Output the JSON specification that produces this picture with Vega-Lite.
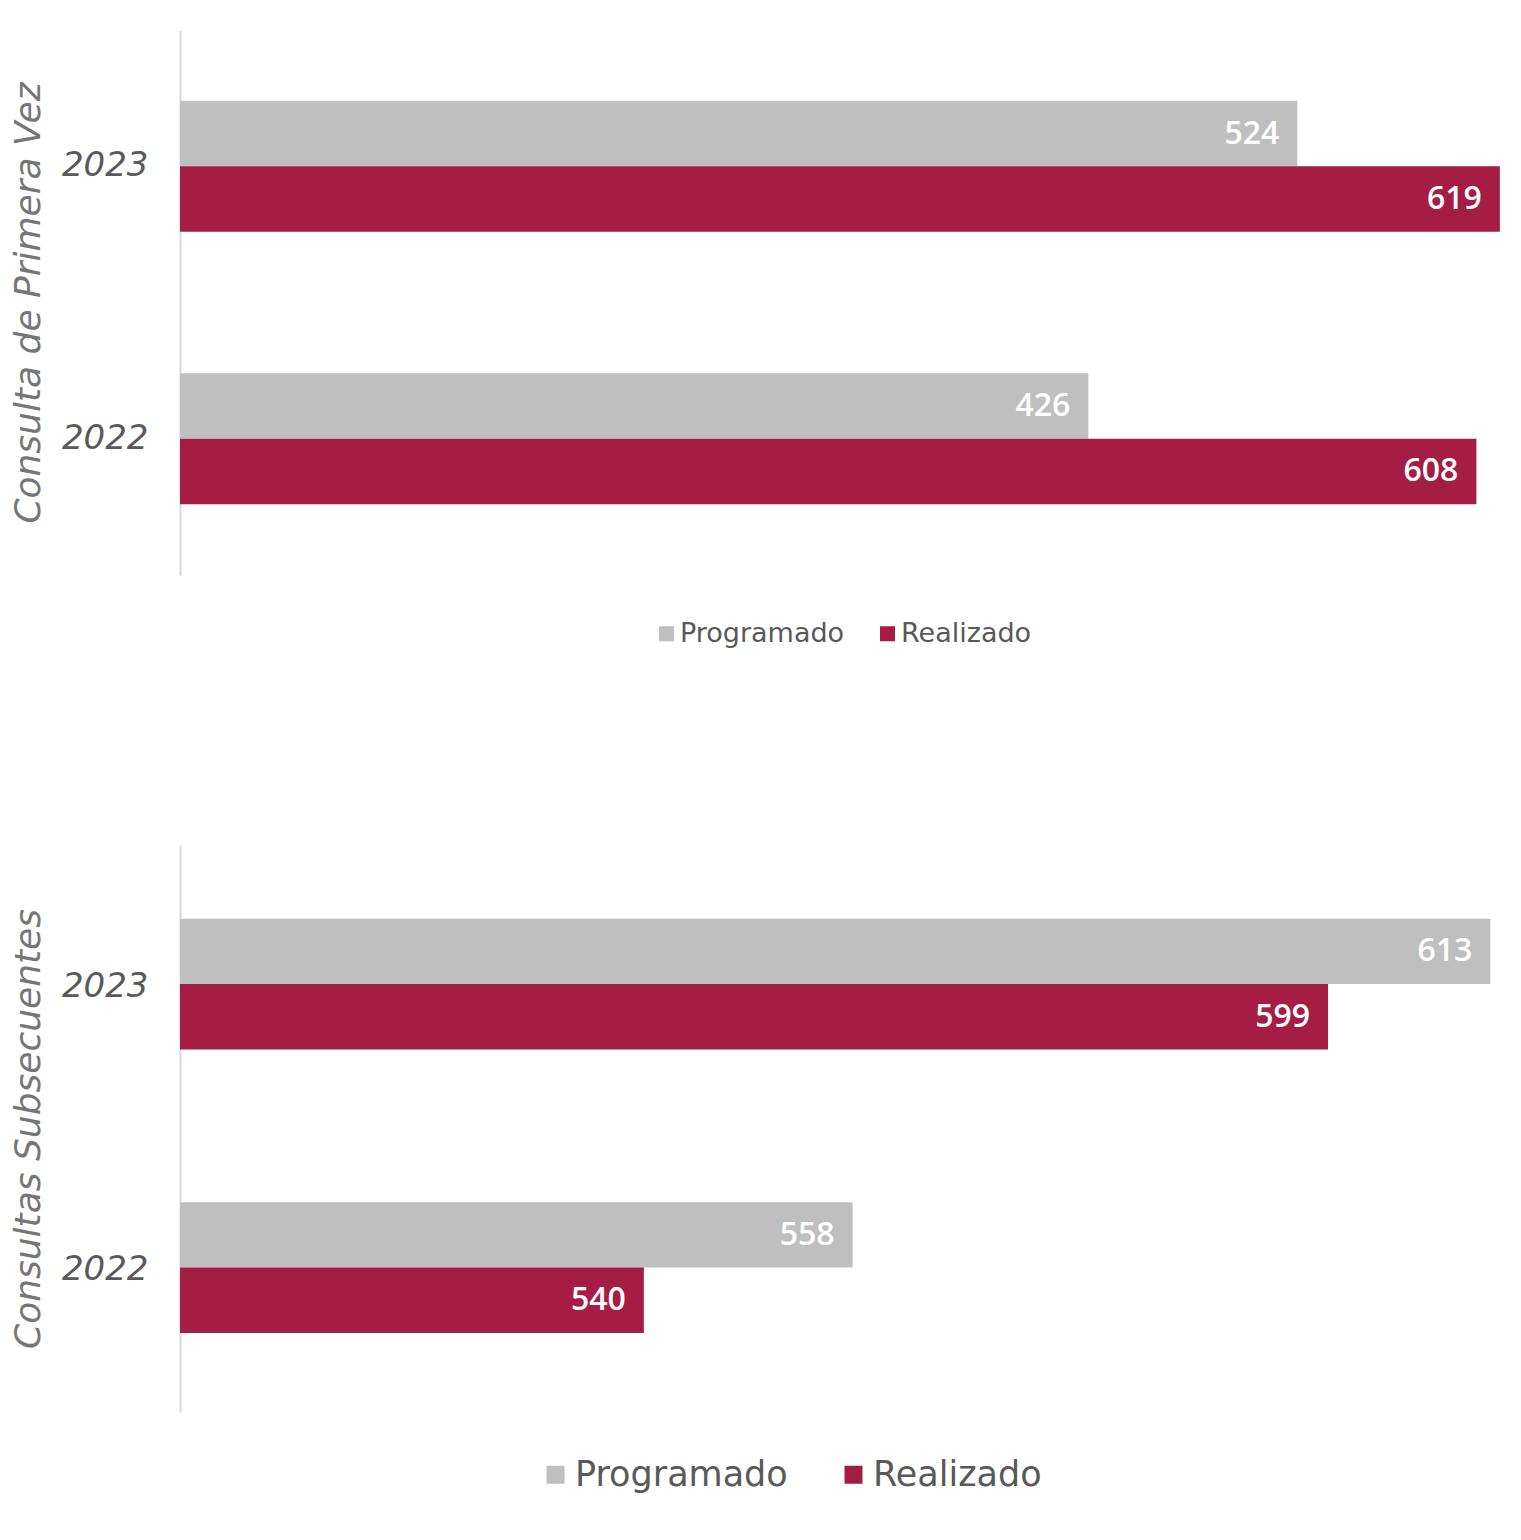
{
  "$schema": "https://vega.github.io/schema/vega-lite/v6.json",
  "background": "white",
  "padding": {"left": 10, "top": 30, "right": 5, "bottom": 5},
  "config": {"view": {"stroke": null}, "font": "DejaVu Sans"},
  "datasets": {
    "d": [
      {"panel": "A", "year": "2023", "serie": "Programado", "value": 524},
      {"panel": "A", "year": "2023", "serie": "Realizado", "value": 619},
      {"panel": "A", "year": "2022", "serie": "Programado", "value": 426},
      {"panel": "A", "year": "2022", "serie": "Realizado", "value": 608},
      {"panel": "B", "year": "2023", "serie": "Programado", "value": 613},
      {"panel": "B", "year": "2023", "serie": "Realizado", "value": 599},
      {"panel": "B", "year": "2022", "serie": "Programado", "value": 558},
      {"panel": "B", "year": "2022", "serie": "Realizado", "value": 540}
    ]
  },
  "spacing": 198,
  "resolve": {"scale": {"x": "independent"}, "legend": {"color": "independent"}},
  "vconcat": [
    {
      "width": 1322,
      "height": 545,
      "data": {"name": "d"},
      "transform": [{"filter": "datum.panel === 'A'"}],
      "encoding": {
        "y": {
          "field": "year", "type": "nominal", "sort": ["2023", "2022"],
          "scale": {"paddingInner": 0.52, "paddingOuter": 0.26},
          "axis": {
            "title": "Consulta de Primera Vez", "titleFontSize": 36, "titleFontStyle": "italic",
            "titleFontWeight": "normal", "titleColor": "#767676", "titlePadding": 14,
            "labelFontSize": 34, "labelFontStyle": "italic", "labelColor": "#595959",
            "labelPadding": 32, "ticks": false, "domainColor": "#D9D9D9", "domainWidth": 2, "grid": false
          }
        },
        "yOffset": {"field": "serie", "type": "nominal", "sort": ["Programado", "Realizado"]},
        "x": {"field": "value", "type": "quantitative", "scale": {"domain": [0, 620]}, "axis": null}
      },
      "layer": [
        {
          "mark": {"type": "bar"},
          "encoding": {
            "color": {
              "field": "serie", "type": "nominal",
              "scale": {"domain": ["Programado", "Realizado"], "range": ["#BFBFBF", "#A51C45"]},
              "legend": {
                "orient": "none", "legendX": 473, "legendY": 590, "direction": "horizontal", "title": null,
                "symbolType": "square", "symbolSize": 225, "symbolStrokeWidth": 0, "labelLimit": 500,
                "labelFontSize": 27, "labelColor": "#595959", "labelOffset": 0, "columnPadding": 29
              }
            }
          }
        },
        {
          "mark": {"type": "text", "align": "right", "baseline": "middle", "dx": -18, "color": "white", "font": "Open Sans", "fontWeight": 600, "fontSize": 32},
          "encoding": {"text": {"field": "value", "type": "quantitative"}}
        }
      ]
    },
    {
      "width": 1322,
      "height": 567,
      "data": {"name": "d"},
      "transform": [{"filter": "datum.panel === 'B'"}],
      "encoding": {
        "y": {
          "field": "year", "type": "nominal", "sort": ["2023", "2022"],
          "scale": {"paddingInner": 0.52, "paddingOuter": 0.26},
          "axis": {
            "title": "Consultas Subsecuentes", "titleFontSize": 36, "titleFontStyle": "italic",
            "titleFontWeight": "normal", "titleColor": "#767676", "titlePadding": 14,
            "labelFontSize": 34, "labelFontStyle": "italic", "labelColor": "#595959",
            "labelPadding": 32, "ticks": false, "domainColor": "#D9D9D9", "domainWidth": 2, "grid": false
          }
        },
        "yOffset": {"field": "serie", "type": "nominal", "sort": ["Programado", "Realizado"]},
        "x": {"field": "value", "type": "quantitative", "scale": {"domain": [500, 614], "zero": false, "clamp": true}, "axis": null}
      },
      "layer": [
        {
          "mark": {"type": "bar"},
          "encoding": {
            "color": {
              "field": "serie", "type": "nominal",
              "scale": {"domain": ["Programado", "Realizado"], "range": ["#BFBFBF", "#A51C45"]},
              "legend": {
                "orient": "none", "legendX": 358, "legendY": 612, "direction": "horizontal", "title": null,
                "symbolType": "square", "symbolSize": 324, "symbolStrokeWidth": 0, "labelLimit": 500,
                "labelFontSize": 35, "labelColor": "#595959", "labelOffset": 2, "columnPadding": 48
              }
            }
          }
        },
        {
          "mark": {"type": "text", "align": "right", "baseline": "middle", "dx": -18, "color": "white", "font": "Open Sans", "fontWeight": 600, "fontSize": 32},
          "encoding": {"text": {"field": "value", "type": "quantitative"}}
        }
      ]
    }
  ]
}
